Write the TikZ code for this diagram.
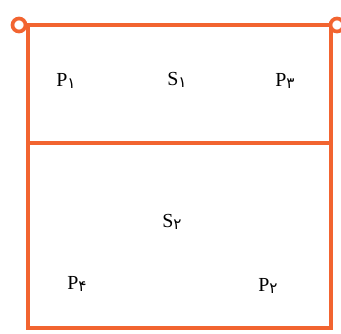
\documentclass[tikz,border=0pt]{standalone}
\usepackage{fontspec}
\setmainfont{Liberation Serif}
\newfontfamily\farsi[Script=Arabic]{DejaVu Sans}
\definecolor{naranja}{RGB}{242,100,48}
\newcommand{\indice}[1]{\raisebox{-0.3ex}{\farsi\fontsize{13}{15}\selectfont #1}}
\tikzset{borde/.style={draw=naranja, line width=0.13cm},
  etiqueta/.style={fill=white, inner sep=1pt}}

\begin{document}
\begin{tikzpicture}[x=0.03cm, y=-0.03cm, font=\fontsize{17}{19}\selectfont]
  \useasboundingbox (0,0) rectangle (341,333);
  \coordinate (argI) at (19,25);
  \coordinate (argD) at (337,25);
  \coordinate (supI) at (28,25);
  \coordinate (supD) at (331,25);
  \coordinate (medI) at (28,143);
  \coordinate (medD) at (331,143);
  \coordinate (infI) at (28,328);
  \coordinate (infD) at (331,328);
  % marco
  \draw[borde] (supI) -- (infI) -- (infD) -- (supD);
  \draw[borde] (argI) -- (argD);
  \draw[borde] (medI) -- (medD);
  \foreach \c in {argI, argD}
    \draw[borde, line width=0.11cm, fill=white] (\c) circle (6.5);
  % puntos
  \foreach \n/\x/\y/\l/\d in {p1/66/81/P/۱, s1/177/80/S/۱, p3/285/81/P/۳,
      s2/172/222/S/۲, p4/77/284/P/۴, p2/268/286/P/۲}
    \node[etiqueta] (\n) at (\x,\y) {\l\indice{\d}};
\end{tikzpicture}
\end{document}
